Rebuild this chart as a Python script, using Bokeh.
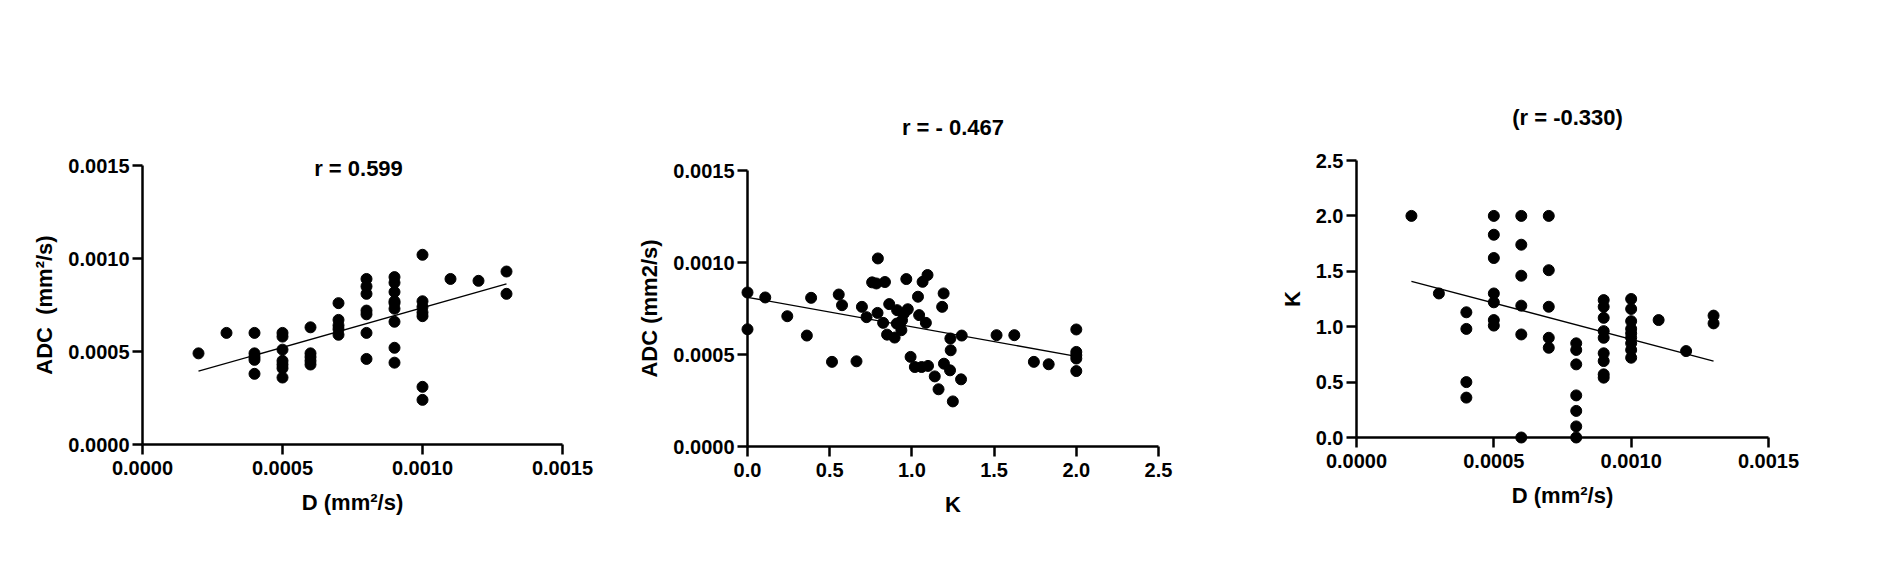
from bokeh.plotting import figure
from bokeh.layouts import row, column
from bokeh.models import Range1d, FixedTicker, PrintfTickFormatter, Spacer
from bokeh.core.properties import value
from bokeh.embed import file_html
from bokeh.resources import INLINE

FONT = "Liberation Sans"

# ---------------- Panel 1: ADC vs D ----------------
p1_d = ([0.0002] + [0.0003] + [0.0004] * 5 + [0.0005] * 7 + [0.0006] * 5 + [0.0007] * 5
        + [0.0008] * 7 + [0.0009] * 9 + [0.0010] * 7 + [0.0011] + [0.0012] + [0.0013] * 2)
p1_adc = [0.00049,
          0.00060,
          0.00060, 0.00049, 0.00047, 0.000455, 0.00038,
          0.00060, 0.00058, 0.00051, 0.00045, 0.00043, 0.00041, 0.00036,
          0.00063, 0.00049, 0.00047, 0.00045, 0.00043,
          0.00076, 0.00067, 0.00064, 0.00062, 0.00059,
          0.00089, 0.00085, 0.00081, 0.00072, 0.00070, 0.00060, 0.00046,
          0.00090, 0.00087, 0.00082, 0.00077, 0.00076, 0.00073, 0.00066, 0.00052, 0.00044,
          0.00102, 0.00077, 0.00074, 0.00071, 0.00069, 0.00031, 0.00024,
          0.00089,
          0.00088,
          0.00093, 0.00081]
p1_fit_d = [0.0002, 0.0013]
p1_fit_adc = [0.000394, 0.000864]
p1_title = "r = 0.599"
p1_xlabel = "D (mm\u00b2/s)"
p1_ylabel = "ADC\u00a0 (mm\u00b2/s)"
p1_xticks = [0.0, 0.0005, 0.0010, 0.0015]
p1_yticks = [0.0, 0.0005, 0.0010, 0.0015]

# ---------------- Panel 2: ADC vs K ----------------
p2_k = [0.0, 0.0, 0.108, 0.242, 0.361, 0.387, 0.514, 0.555, 0.575, 0.663,
        0.696, 0.724, 0.758, 0.784, 0.793, 0.791, 0.836, 0.825, 0.849, 0.862,
        0.895, 0.910, 0.908, 0.936, 0.940, 0.951, 0.966, 0.975, 0.992, 1.018,
        1.037, 1.044, 1.059, 1.065, 1.085, 1.095, 1.098, 1.139, 1.162, 1.184,
        1.193, 1.195, 1.232, 1.234, 1.236, 1.249, 1.299, 1.303, 1.515, 1.623,
        1.742, 1.832, 2.0, 2.0, 2.0, 2.0, 2.0]
p2_adc = [0.000837, 0.000637, 0.000810, 0.000708, 0.000603, 0.000808, 0.000460, 0.000826, 0.000768, 0.000463,
          0.000759, 0.000703, 0.000892, 0.000886, 0.001022, 0.000726, 0.000894, 0.000672, 0.000608, 0.000774,
          0.000592, 0.000741, 0.000668, 0.000632, 0.000686, 0.000723, 0.000910, 0.000746, 0.000487, 0.000432,
          0.000814, 0.000714, 0.000432, 0.000895, 0.000672, 0.000932, 0.000438, 0.000381, 0.000311, 0.000759,
          0.000832, 0.000450, 0.000414, 0.000587, 0.000523, 0.000245, 0.000365, 0.000603, 0.000605, 0.000605,
          0.000460, 0.000447, 0.000636, 0.000514, 0.000496, 0.000478, 0.000410]
p2_fit_k = [0.0, 2.0]
p2_fit_adc = [0.000811, 0.000490]
p2_title = "r = - 0.467"
p2_xlabel = "K"
p2_ylabel = "ADC (mm2/s)"
p2_xticks = [0.0, 0.5, 1.0, 1.5, 2.0, 2.5]
p2_yticks = [0.0, 0.0005, 0.0010, 0.0015]

# ---------------- Panel 3: K vs D ----------------
p3_d = ([0.0002] + [0.0003] + [0.0004] * 4 + [0.0005] * 7 + [0.0006] * 6 + [0.0007] * 5
        + [0.0008] * 7 + [0.0009] * 9 + [0.0010] * 9 + [0.0011] + [0.0012] + [0.0013] * 2)
p3_k = [2.0,
        1.30,
        1.13, 0.98, 0.50, 0.36,
        2.0, 1.83, 1.62, 1.30, 1.22, 1.06, 1.01,
        2.0, 1.74, 1.46, 1.19, 0.93, 0.0,
        2.0, 1.51, 1.18, 0.90, 0.81,
        0.85, 0.79, 0.66, 0.38, 0.24, 0.10, 0.0,
        1.24, 1.18, 1.08, 0.96, 0.90, 0.76, 0.69, 0.57, 0.54,
        1.25, 1.16, 1.05, 0.98, 0.94, 0.90, 0.85, 0.79, 0.72,
        1.06,
        0.78,
        1.10, 1.03]
p3_fit_d = [0.0002, 0.0013]
p3_fit_k = [1.41, 0.69]
p3_title = "(r = -0.330)"
p3_xlabel = "D (mm\u00b2/s)"
p3_ylabel = "K"
p3_xticks = [0.0, 0.0005, 0.0010, 0.0015]
p3_yticks = [0.0, 0.5, 1.0, 1.5, 2.0, 2.5]

TOP = 160  # common top border; per-panel extra shift is done with spacers


def make_panel(xs, ys, fx, fy, title, xlabel, ylabel, xr, yr, xticks, yticks, xfmt, yfmt,
               left, right, bottom, fw, fh, title_dx, title_dy_px):
    p = figure(output_backend="svg", toolbar_location=None,
               frame_width=fw, frame_height=fh,
               x_range=Range1d(*xr), y_range=Range1d(*yr),
               min_border_left=left, min_border_right=right,
               min_border_top=TOP, min_border_bottom=bottom)
    p.outline_line_color = None
    p.grid.visible = False
    p.background_fill_color = "white"
    p.border_fill_color = "white"
    for ax, ticks, fmt, lab in ((p.xaxis[0], xticks, xfmt, xlabel), (p.yaxis[0], yticks, yfmt, ylabel)):
        ax.ticker = FixedTicker(ticks=ticks)
        ax.formatter = PrintfTickFormatter(format=fmt)
        ax.axis_line_width = 2.5
        ax.axis_line_color = "black"
        ax.major_tick_line_width = 2.5
        ax.major_tick_line_color = "black"
        ax.major_tick_out = 10
        ax.major_tick_in = 0
        ax.minor_tick_line_color = None
        ax.major_label_text_font = FONT
        ax.major_label_text_font_style = "bold"
        ax.major_label_text_font_size = "20px"
        ax.major_label_text_color = "black"
        ax.axis_label = lab
        ax.axis_label_text_font = FONT
        ax.axis_label_text_font_style = "bold"
        ax.axis_label_text_font_size = "22px"
        ax.axis_label_text_color = "black"
    p.yaxis[0].major_label_standoff = 3
    p.xaxis[0].major_label_standoff = 6
    p.yaxis[0].axis_label_standoff = 8
    p.xaxis[0].axis_label_standoff = 12

    p.line(fx, fy, line_color="black", line_width=1.3)
    r = p.scatter(xs, ys, size=11, fill_color="black", line_color="black")
    r.level = "overlay"

    ty = yr[1] + title_dy_px * (yr[1] - yr[0]) / fh
    t = p.text(x=[(xr[0] + xr[1]) / 2], y=[ty], text=[title], x_offset=title_dx,
               text_align="center", text_baseline="middle",
               text_font=value(FONT), text_font_style="bold",
               text_font_size="22px", text_color="black")
    t.level = "overlay"
    return p


p1 = make_panel(p1_d, p1_adc, p1_fit_d, p1_fit_adc, p1_title, p1_xlabel, p1_ylabel,
                (0, 0.0015), (0, 0.0015), p1_xticks, p1_yticks, "%.4f", "%.4f",
                142, 58, 121, 420, 279, 6, -3)
p2 = make_panel(p2_k, p2_adc, p2_fit_k, p2_fit_adc, p2_title, p2_xlabel, p2_ylabel,
                (0, 2.5), (0, 0.0015), p2_xticks, p2_yticks, "%.1f", "%.4f",
                127, 72, 114, 411, 276, 0, 43)
p3 = make_panel(p3_d, p3_k, p3_fit_d, p3_fit_k, p3_title, p3_xlabel, p3_ylabel,
                (0, 0.0015), (0, 2.5), p3_xticks, p3_yticks, "%.4f", "%.1f",
                126, 110, 133, 412, 277, 5, 43)

c1 = column(Spacer(width=1, height=5), p1)
c2 = column(Spacer(width=1, height=10), p2)
c3 = column(Spacer(width=1, height=0), p3)

layout = row(c1, c2, c3)
open("out.html", "w").write(file_html(layout, INLINE))
